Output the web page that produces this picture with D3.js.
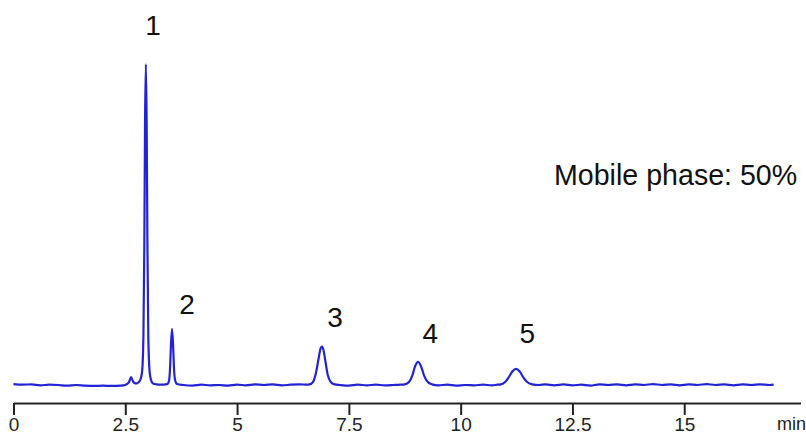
<!DOCTYPE html>
<html>
<head>
<meta charset="utf-8">
<script src="https://cdn.jsdelivr.net/npm/d3@7"></script>
<style>
  body { margin: 0; background: #fff; }
  svg { display: block; font-family: "Liberation Sans", Arial, sans-serif; }
</style>
</head>
<body>
<script>
// chromatogram: [time (min), signal]
const baseline = [
  [0.0, 0.3], [0.2, 0.1], [0.4, 0.2], [0.6, -0.1], [0.8, 0.1], [1.0, 0.0], [1.2, -0.2],
  [1.4, 0.0], [1.6, -0.2], [1.8, -0.3], [2.0, -0.2], [2.2, -0.3], [2.4, -0.2], [2.5, 0.0],
  [3.2, 0.2], [3.3, 0.1], [3.4, 0.2],
  [3.8, 0.0], [4.0, -0.2], [4.2, 0.1], [4.4, -0.1], [4.6, 0.0], [4.8, -0.2], [5.0, 0.1],
  [5.2, -0.1], [5.4, 0.2], [5.6, 0.0], [5.8, 0.2], [6.0, -0.1], [6.2, 0.1], [6.4, 0.2], [6.55, 0.1],
  [7.3, 0.0], [7.5, -0.2], [7.7, 0.1], [7.9, -0.1], [8.1, 0.1], [8.3, -0.1], [8.5, 0.0], [8.65, 0.1],
  [9.5, -0.1], [9.7, 0.1], [9.9, -0.2], [10.1, 0.0], [10.3, -0.1], [10.5, 0.1], [10.7, -0.1], [10.82, 0.1],
  [11.75, 0.0], [11.9, 0.2], [12.1, -0.1], [12.3, 0.2], [12.5, -0.1], [12.7, 0.1], [12.9, -0.2],
  [13.1, 0.2], [13.3, 0.0], [13.5, 0.2], [13.7, -0.1], [13.9, 0.2], [14.1, 0.0], [14.3, 0.3],
  [14.5, 0.0], [14.7, 0.2], [14.9, -0.1], [15.1, 0.2], [15.3, 0.0], [15.5, 0.3], [15.7, 0.0],
  [15.9, 0.2], [16.1, -0.1], [16.3, 0.2], [16.5, 0.0], [16.7, 0.2], [16.9, 0.0], [17.0, 0.1]
];
const shoulder = [[2.58, 0.8], [2.63, 2.5], [2.67, 1.2], [2.71, 0.6], [2.76, 0.5], [2.80, 0.9]];
const peak1 = [
  [2.84, 1.8], [2.875, 4], [2.905, 15], [2.925, 42], [2.942, 82], [2.96, 100], [2.978, 82],
  [2.995, 44], [3.015, 15], [3.045, 4], [3.09, 1], [3.13, 0.4]
];
const peak2 = [
  [3.44, 0.3], [3.48, 1.5], [3.50, 5], [3.52, 12], [3.545, 17.5], [3.57, 12], [3.59, 5],
  [3.615, 1.5], [3.66, 0.3]
];
const peak3 = [
  [6.62, 0.2], [6.70, 1], [6.76, 3.5], [6.82, 8], [6.87, 11.5], [6.90, 12], [6.93, 11],
  [6.98, 7], [7.03, 3], [7.09, 1], [7.18, 0.2]
];
const peak4 = [
  [8.75, 0.2], [8.85, 1], [8.92, 3], [8.98, 5.8], [9.05, 7.2], [9.12, 5.6], [9.18, 3],
  [9.26, 1], [9.36, 0.2]
];
const peak5 = [
  [10.9, 0.2], [11.0, 1], [11.08, 2.5], [11.16, 4.3], [11.24, 5], [11.32, 4.2], [11.40, 2.4],
  [11.48, 1], [11.6, 0.2]
];

const peakNames = ["1", "2", "3", "4", "5"];
const labelTimes = [3.12, 3.88, 7.19, 9.32, 11.49];
const labelLevels = [109.1, 22.2, 18.1, 13.1, 13.1];

const tickValues = [0, 2.5, 5, 7.5, 10, 12.5, 15];
const tickLabels = ["0", "2.5", "5", "7.5", "10", "12.5", "15"];
const note = "Mobile phase: 50%";
const unit = "min";

const width = 806,
      height = 434,
      axisY = 403;

function draw() {
  let svg = d3.select("body")
      .append("svg")
      .attr("width", width)
      .attr("height", height);

  let x = d3.scaleLinear().domain([0, 17.6]).range([13.5, 800.5]);
  let y = d3.scaleLinear().domain([0, 100]).range([385, 64]);

  let trace = baseline.concat(shoulder, peak1, peak2, peak3, peak4, peak5)
      .sort(function (a, b) { return a[0] - b[0]; });

  let line = d3.line()
      .x(function (d) { return x(d[0]); })
      .y(function (d) { return y(d[1]); })
      .curve(d3.curveMonotoneX);

  svg.append("path")
      .attr("d", line(trace))
      .attr("fill", "none")
      .attr("stroke", "#2222d6")
      .attr("stroke-width", 2.2)
      .attr("stroke-linejoin", "round");

  let xAxis = d3.axisBottom(x)
      .tickValues(tickValues)
      .tickFormat(function (d, i) { return tickLabels[i]; })
      .tickSizeInner(12)
      .tickSizeOuter(0);

  let g = svg.append("g")
      .attr("transform", "translate(0," + axisY + ")")
      .call(xAxis);

  g.select(".domain").attr("stroke", "#222").attr("stroke-width", 2);
  g.selectAll(".tick line").attr("stroke", "#222").attr("stroke-width", 2);
  g.selectAll(".tick text")
      .attr("y", 28)
      .attr("dy", 0)
      .attr("fill", "#222")
      .style("font-size", "19px")
      .style("font-family", "'Liberation Sans', Arial, sans-serif");

  svg.append("text")
      .attr("x", 777)
      .attr("y", 430)
      .attr("fill", "#222")
      .style("font-size", "18px")
      .text(unit);

  svg.selectAll(".peak-label")
      .data(peakNames)
      .enter()
      .append("text")
      .attr("class", "peak-label")
      .attr("x", function (d, i) { return x(labelTimes[i]); })
      .attr("y", function (d, i) { return y(labelLevels[i]); })
      .attr("text-anchor", "middle")
      .attr("fill", "#111")
      .style("font-size", "28px")
      .text(function (d) { return d; });

  svg.append("text")
      .attr("x", 554)
      .attr("y", 185)
      .attr("fill", "#111")
      .style("font-size", "28.6px")
      .text(note);
}

window.onload = draw;
</script>
</body>
</html>
